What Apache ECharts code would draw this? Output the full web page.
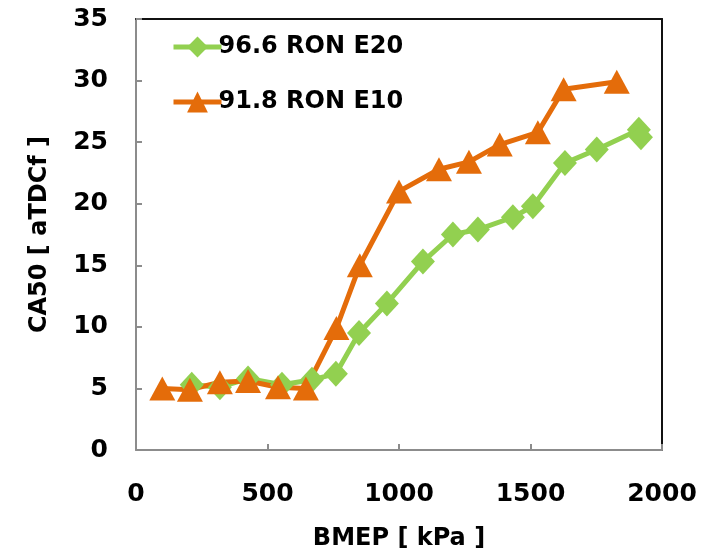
<!DOCTYPE html>
<html>
<head>
<meta charset="utf-8">
<script src="https://cdn.jsdelivr.net/npm/echarts@6/dist/echarts.min.js"></script>
<style>
html,body{margin:0;padding:0;background:#fff;}
#main{width:707px;height:555px;}
</style>
</head>
<body>
<div id="main"></div>
<script>
// 96.6 RON E20
var e20Bmep = [212, 319, 426, 555, 669, 760, 848, 954, 1091, 1205, 1300, 1433, 1509, 1631, 1752, 1912, 1920];
var e20Ca50 = [5.3, 5.1, 5.8, 5.3, 5.7, 6.2, 9.5, 11.9, 15.3, 17.5, 17.9, 18.9, 19.8, 23.3, 24.4, 26.0, 25.4];
// 91.8 RON E10
var e10Bmep = [100, 205, 319, 426, 540, 646, 762, 851, 1000, 1152, 1266, 1383, 1528, 1626, 1828];
var e10Ca50 = [5.0, 4.9, 5.5, 5.6, 5.1, 5.0, 9.9, 15.0, 21.0, 22.8, 23.4, 24.8, 25.8, 29.3, 29.9];
var seriesNames = ['96.6 RON E20', '91.8 RON E10'];

function pairs(xs, ys) {
    return xs.map(function (x, i) { return [x, ys[i]]; });
}

var font = '"DejaVu Sans", "Liberation Sans", sans-serif';
function txt(size) {
    return { fontFamily: font, fontWeight: 'bold', fontSize: size, color: '#000' };
}
var grayLine = { color: '#8c8c8c', width: 2 };
var myChart = echarts.init(document.getElementById('main'));
var option = {
    animation: false,
    backgroundColor: '#fff',
    grid: { left: 136, top: 19, right: 45, bottom: 105, outerBoundsMode: 'none' },
    legend: {
        orient: 'vertical',
        left: 166, top: 29,
        itemWidth: 48, itemHeight: 26,
        itemGap: 29,
        data: seriesNames,
        lineStyle: { width: 5 },
        textStyle: Object.assign(txt(24), { lineHeight: 26, padding: [0, 0, 0, -8] })
    },
    xAxis: [{
        type: 'value', min: 0, max: 2000, interval: 500,
        name: 'BMEP [ kPa ]', nameLocation: 'middle', nameGap: 77,
        nameTextStyle: txt(24),
        axisLine: { show: true, lineStyle: grayLine },
        axisTick: { show: true, inside: true, length: 6, lineStyle: grayLine },
        axisLabel: Object.assign(txt(25), { margin: 32, formatter: function (v) { return String(v); } }),
        splitLine: { show: false }
    }, {
        type: 'value', min: 0, max: 2000, position: 'top',
        axisLine: { show: true, onZero: false, lineStyle: { color: '#111', width: 2 } },
        axisTick: { show: false }, axisLabel: { show: false }, splitLine: { show: false }
    }],
    yAxis: [{
        type: 'value', min: 0, max: 35, interval: 5,
        name: 'CA50 [ aTDCf ]', nameLocation: 'middle', nameGap: 84, nameRotate: 90,
        nameTextStyle: txt(24),
        axisLine: { show: true, lineStyle: grayLine },
        axisTick: { show: true, inside: true, length: 6, lineStyle: grayLine },
        axisLabel: Object.assign(txt(25), { margin: 28 }),
        splitLine: { show: false }
    }, {
        type: 'value', min: 0, max: 35, position: 'right',
        axisLine: { show: true, onZero: false, lineStyle: { color: '#111', width: 2 } },
        axisTick: { show: false }, axisLabel: { show: false }, splitLine: { show: false }
    }],
    series: [{
        name: seriesNames[0],
        type: 'line',
        data: pairs(e20Bmep, e20Ca50),
        symbol: 'diamond', symbolSize: [24, 26],
        itemStyle: { color: '#92D050' },
        lineStyle: { color: '#92D050', width: 5 }
    }, {
        name: seriesNames[1],
        type: 'line',
        data: pairs(e10Bmep, e10Ca50),
        symbol: 'triangle', symbolSize: [26, 24],
        itemStyle: { color: '#E46C0A' },
        lineStyle: { color: '#E46C0A', width: 5 }
    }]
};
myChart.setOption(option);
</script>
</body>
</html>
